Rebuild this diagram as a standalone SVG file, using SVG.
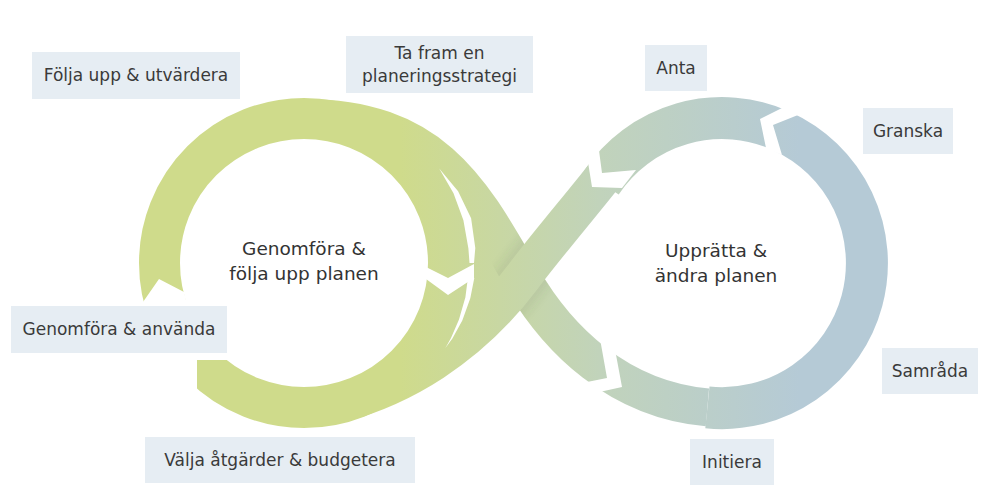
<svg xmlns="http://www.w3.org/2000/svg" width="990" height="497" viewBox="0 0 990 497">
<defs>
<linearGradient id="g" gradientUnits="userSpaceOnUse" x1="400" y1="0" x2="800" y2="0">
<stop offset="0" stop-color="#cfdb8b"/>
<stop offset="0.5" stop-color="#c1d3bb"/>
<stop offset="1" stop-color="#b5cad6"/>
</linearGradient>
<mask id="mA" maskUnits="userSpaceOnUse" x="0" y="0" width="990" height="497">
<path d="M 304,118 C 434,118 472,191.4 522,278 C 557,338.6 617.8,399.6 707.4,407.4" fill="none" stroke="#ffffff" stroke-width="38"/>
</mask>
<filter id="soft" x="-20%" y="-20%" width="140%" height="140%"><feGaussianBlur stdDeviation="4"/></filter>
<style>
.band{fill:none;stroke:url(#g);stroke-linecap:butt}
.patch{fill:url(#g)}
.gap{fill:#ffffff}
.box{fill:#e6edf3}
.lbl{font-family:"DejaVu Sans",sans-serif;font-size:17px;fill:#3a3a3a;text-anchor:middle}
.ctr{font-family:"DejaVu Sans",sans-serif;font-size:18.5px;fill:#333333;text-anchor:middle}
</style>
</defs>
<rect width="990" height="497" fill="#ffffff"/>
<g id="connectors">
<circle class="band" cx="304" cy="263" r="144.5" stroke-width="41"/>
<path class="band" stroke-width="42" d="M 601.2,182.8 A 145 145 0 1 1 707.4,407.4"/>
<path id="bandA" class="band" stroke-width="38" d="M 304,118 C 434,118 472,191.4 522,278 C 557,338.6 617.8,399.6 707.4,407.4"/>
<polygon class="patch" points="430.1,164.5 443,165.5 477.4,205.3 499.8,240.1 522,278 488.1,317.1 461,341.5 438.2,350.1 454.4,317.7 463.4,276.9 461.6,235.2 449,195.3"/>
<g mask="url(#mA)"><path d="M 605.7,173.7 C 581,205.2 546,246 522,278 C 468,350 399.5,387.6 341.5,403.1" fill="none" stroke="#4d5a40" stroke-opacity="0.1" stroke-width="50" filter="url(#soft)"/></g>
<path id="bandB" class="band" stroke-width="38" d="M 605.7,173.7 C 581,205.2 546,246 522,278 C 468,350 399.5,387.6 341.5,403.1"/>
<polygon class="gap" points="120,302 143,302 159,279 184,292 186,300 234,300 234,360 197,360 197,400 120,400"/>
<polygon class="gap" points="439.2,168.4 453.5,193.3 463.4,220.3 468.4,248.6 469.5,263 474,263 475.3,248 471.1,218.2 458.1,191.2"/>
<polygon class="gap" points="468,277 465.4,297.3 459,319.4 451,337.9 445.4,348 452.4,338.6 462.3,320.6 470.3,298.3 474.3,277.9"/>
<polygon class="gap" points="426,267 448,278 474,264 474,278 448,295 426,279"/>
<polygon class="gap" points="786,106 760,119 766,148 782,155 773,125 803,113"/>
<polygon class="gap" points="598,143 602,173 636,170 622,188 592,187 587,156"/>
<polygon class="gap" points="600.5,341.6 607,378 574.5,384.5 587,394.8 622,387 615.5,351.9"/>
</g>
<g id="n-left-center"><text class="ctr" x="304" y="255">Genomföra &amp;</text><text class="ctr" x="304" y="280">följa upp planen</text></g>
<g id="n-right-center"><text class="ctr" x="716" y="257">Upprätta &amp;</text><text class="ctr" x="716" y="282">ändra planen</text></g>
<g id="n-folja"><rect class="box" x="32" y="52" width="208" height="47"/><text class="lbl" x="136" y="81">Följa upp &amp; utvärdera</text></g>
<g id="n-tafram"><rect class="box" x="346" y="36" width="187" height="57"/><text class="lbl" x="439.5" y="59">Ta fram en</text><text class="lbl" x="439.5" y="82">planeringsstrategi</text></g>
<g id="n-anta"><rect class="box" x="645" y="45" width="62" height="46"/><text class="lbl" x="676" y="74">Anta</text></g>
<g id="n-granska"><rect class="box" x="863" y="108" width="90" height="46"/><text class="lbl" x="908" y="137">Granska</text></g>
<g id="n-samrada"><rect class="box" x="882" y="348" width="96" height="46"/><text class="lbl" x="930" y="377">Samråda</text></g>
<g id="n-initiera"><rect class="box" x="690" y="439" width="84" height="46"/><text class="lbl" x="732" y="468">Initiera</text></g>
<g id="n-genomfora"><rect class="box" x="11" y="306" width="216" height="47"/><text class="lbl" x="119" y="335">Genomföra &amp; använda</text></g>
<g id="n-valja"><rect class="box" x="145" y="437" width="270" height="46"/><text class="lbl" x="280" y="466">Välja åtgärder &amp; budgetera</text></g>
</svg>
